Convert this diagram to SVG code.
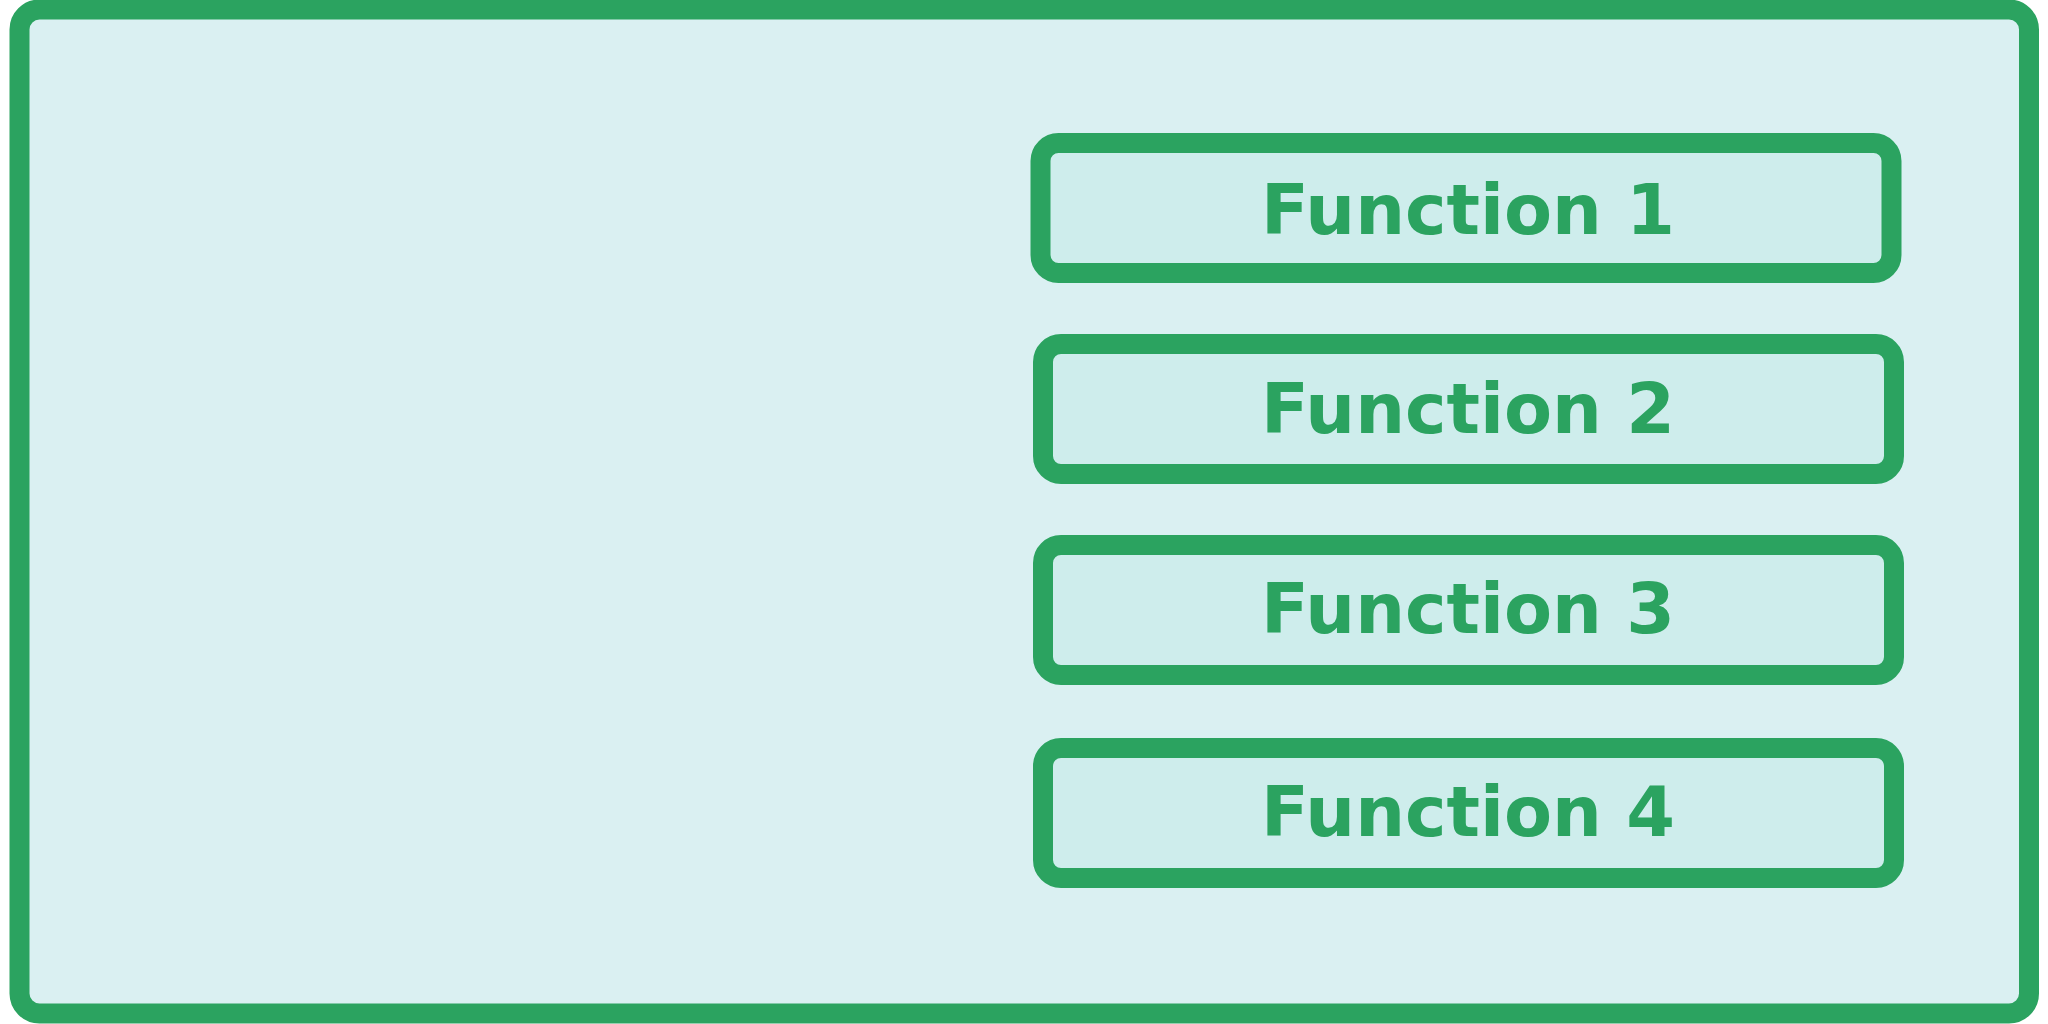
<svg xmlns="http://www.w3.org/2000/svg" width="2048" height="1024" viewBox="0 0 2048 1024">
<style>
.frame{fill:#daf0f2;stroke:#2ba360;stroke-width:20}
.box{fill:#ceedec;stroke:#2ba360;stroke-width:20}
.label{font-family:"DejaVu Sans",sans-serif;font-weight:bold;font-size:70px;fill:#2ba360;text-anchor:middle}
</style>
<g id="container">
<rect class="frame" x="19.5" y="9.5" width="2009.5" height="1004" rx="20" ry="20"/>
</g>
<g id="function1">
<rect class="box" x="1040.5" y="143" width="851" height="130" rx="18" ry="18"/>
<text class="label" x="1468" y="234">Function 1</text>
</g>
<g id="function2">
<rect class="box" x="1043" y="344" width="851" height="130" rx="18" ry="18"/>
<text class="label" x="1468" y="433">Function 2</text>
</g>
<g id="function3">
<rect class="box" x="1043" y="545" width="851" height="130" rx="18" ry="18"/>
<text class="label" x="1468" y="633">Function 3</text>
</g>
<g id="function4">
<rect class="box" x="1043" y="748" width="851" height="130" rx="18" ry="18"/>
<text class="label" x="1468" y="836">Function 4</text>
</g>
<g id="connectors"/>
</svg>
